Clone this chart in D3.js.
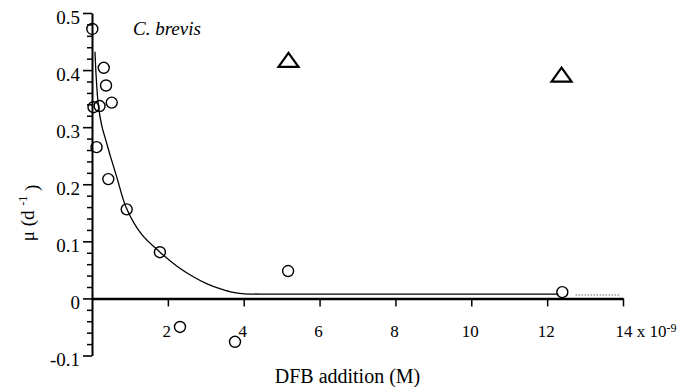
<!DOCTYPE html>
<html><head><meta charset="utf-8">
<script src="https://cdn.jsdelivr.net/npm/d3@7"></script>
<style>body{margin:0;background:#fff}svg{display:block}
svg text{font-family:"Liberation Serif","Times New Roman",Times,"DejaVu Serif",serif;fill:#000}</style>
</head><body><svg id="c" width="679" height="387"></svg>
<script>
// ---- data (DFB addition in 1e-9 M, growth rate mu in d^-1) ----
const circleX = [0.008, 0.31, 0.37, 0.52, 0.04, 0.20, 0.12, 0.43, 0.915, 1.79, 2.32, 3.77, 5.17, 12.40];
const circleY = [0.472, 0.404, 0.373, 0.343, 0.335, 0.337, 0.265, 0.209, 0.156, 0.081, -0.050, -0.076, 0.048, 0.011];
const triX = [5.18, 12.38];
const triY = [0.418, 0.392];
const fitX = [0.079, 0.105, 0.17, 0.26, 0.37, 0.49, 0.651, 0.915, 1.30, 1.793, 2.25, 2.67, 3.05, 3.37, 3.65, 3.95, 4.69, 8.0, 12.3];
const fitY = [0.432, 0.394, 0.337, 0.302, 0.276, 0.248, 0.213, 0.157, 0.113, 0.081, 0.056, 0.038, 0.025, 0.017, 0.0115, 0.0085, 0.0075, 0.0074, 0.0074];
const tailX = [12.75, 13.9];
const tailY = [0.006, 0.006];
const xTicks = [2, 4, 6, 8, 10, 12, 14];
const xTickLabels = ["2", "4", "6", "8", "10", "12", "14"];
const yTicks = [-0.1, 0, 0.1, 0.2, 0.3, 0.4, 0.5];
const yTickLabels = ["-0.1", "0", "0.1", "0.2", "0.3", "0.4", "0.5"];
const yMinor = [-0.08,-0.06,-0.04,-0.02,0.02,0.04,0.06,0.08,0.12,0.14,0.16,0.18,0.22,0.24,0.26,0.28,0.32,0.34,0.36,0.38,0.42,0.44,0.46,0.48];

const svg = d3.select("#c");
const x = d3.scaleLinear().domain([0, 14]).range([92, 623]);
const y = d3.scaleLinear().domain([-0.1, 0.5]).range([355.5, 13]);
const font = '"Liberation Serif","Times New Roman",Times,"DejaVu Serif",serif';

// y minor ticks
svg.append("g").attr("transform", `translate(${x(0)},0)`)
  .call(d3.axisLeft(y).tickValues(yMinor).tickSize(5).tickFormat(""))
  .call(g => g.select(".domain").remove())
  .selectAll("line").attr("stroke-width", 1.5).attr("stroke", "#000");

// y major axis
const gy = svg.append("g").attr("transform", `translate(${x(0)},0)`)
  .call(d3.axisLeft(y).tickValues(yTicks).tickSize(9).tickSizeOuter(0).tickPadding(3)
    .tickFormat((d, i) => yTickLabels[i]));
gy.attr("font-family", null).attr("font-size", null);
gy.select(".domain").attr("stroke-width", 2).attr("stroke", "#000");
gy.selectAll("line").attr("stroke-width", 1.6).attr("stroke", "#000");
gy.selectAll("text").style("font-family", font).style("font-size", "19px").attr("dy", "0.55em");

// x axis along mu = 0
const gx = svg.append("g").attr("transform", `translate(0,${y(0)})`)
  .call(d3.axisBottom(x).tickValues(xTicks).tickSize(8).tickSizeOuter(0).tickPadding(19)
    .tickFormat((d, i) => xTickLabels[i]));
gx.attr("font-family", null).attr("font-size", null);
gx.select(".domain").attr("stroke-width", 2.5).attr("stroke", "#000");
gx.selectAll("line").attr("stroke-width", 1.5).attr("stroke", "#000");
gx.selectAll("text").style("font-family", font).style("font-size", "17px").attr("dx", -1.5);
gx.selectAll(".tick").filter(d => d === 14).select("text")
  .attr("text-anchor", "start").attr("x", -8).attr("dx", 0)
  .text(null)
  .call(t => {
    t.append("tspan").text(xTickLabels[xTickLabels.length - 1] + " x 10");
    t.append("tspan").attr("dy", "-0.45em").style("font-size", "12px").text("-9");
  });

// fitted curve
const line = d3.line().x(d => x(d[0])).y(d => y(d[1])).curve(d3.curveCatmullRom.alpha(0.5));
svg.append("path").datum(fitX.map((v, i) => [v, fitY[i]]))
  .attr("d", line).attr("fill", "none").attr("stroke", "#000").attr("stroke-width", 1.3);
svg.append("path").datum(tailX.map((v, i) => [v, tailY[i]]))
  .attr("d", d3.line().x(d => x(d[0])).y(d => y(d[1])))
  .attr("fill", "none").attr("stroke", "#666").attr("stroke-width", 1.2).attr("stroke-dasharray", "1.5,1.5");

// circles
svg.append("g").selectAll("circle").data(circleX.map((v, i) => [v, circleY[i]])).join("circle")
  .attr("cx", d => x(d[0])).attr("cy", d => y(d[1])).attr("r", 5.5)
  .attr("fill", "none").attr("stroke", "#000").attr("stroke-width", 1.4);

// triangles
const triSym = { draw(ctx, size) { const s = Math.sqrt(size); const w = s * 0.5, h = s * 0.7;
  ctx.moveTo(0, -h / 2); ctx.lineTo(w, h / 2); ctx.lineTo(-w, h / 2); ctx.closePath(); } };
svg.append("g").selectAll("path").data(triX.map((v, i) => [v, triY[i]])).join("path")
  .attr("transform", d => `translate(${x(d[0])},${y(d[1])})`)
  .attr("d", d3.symbol(triSym, 400))
  .attr("fill", "none").attr("stroke", "#000").attr("stroke-width", 2.2).attr("stroke-linejoin", "miter");

// texts
svg.append("text").attr("x", 133).attr("y", 35).style("font-family", font).style("font-style", "italic")
  .style("font-size", "19px").text("C. brevis");
svg.append("text").attr("x", 347.5).attr("y", 383).attr("text-anchor", "middle").style("font-family", font)
  .style("font-size", "20px").text("DFB addition (M)");
svg.append("text").attr("transform", "translate(34,213) rotate(-90)").attr("text-anchor", "middle")
  .style("font-family", font).style("font-size", "19px")
  .call(t => {
    t.append("tspan").text("μ (d ");
    t.append("tspan").attr("dy", "-0.55em").style("font-size", "12px").text("-1");
    t.append("tspan").attr("dy", "0.55em").text(" )");
  });
</script>
</body></html>
